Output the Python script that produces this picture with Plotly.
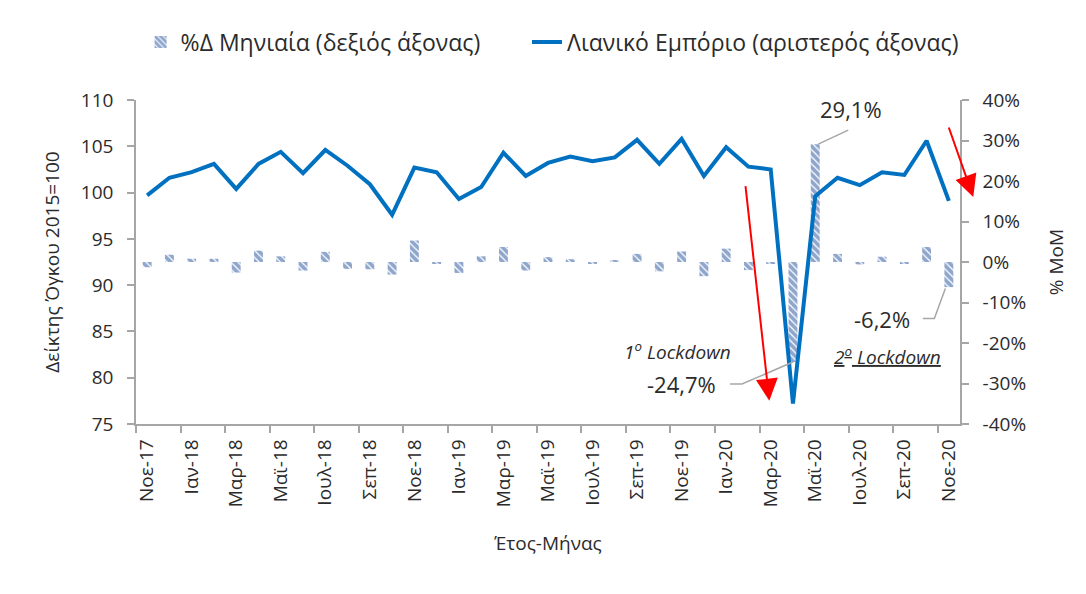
import plotly.graph_objects as go

months = ["Νοε-17", "Δεκ-17", "Ιαν-18", "Φεβ-18", "Μαρ-18", "Απρ-18", "Μαϊ-18", "Ιουν-18",
          "Ιουλ-18", "Αυγ-18", "Σεπ-18", "Οκτ-18", "Νοε-18", "Δεκ-18", "Ιαν-19", "Φεβ-19",
          "Μαρ-19", "Απρ-19", "Μαϊ-19", "Ιουν-19", "Ιουλ-19", "Αυγ-19", "Σεπ-19", "Οκτ-19",
          "Νοε-19", "Δεκ-19", "Ιαν-20", "Φεβ-20", "Μαρ-20", "Απρ-20", "Μαϊ-20", "Ιουν-20",
          "Ιουλ-20", "Αυγ-20", "Σεπ-20", "Οκτ-20", "Νοε-20"]

retail_index = [99.7, 101.6, 102.2, 103.1, 100.4, 103.1, 104.4, 102.1, 104.6, 102.9, 100.9, 97.6,
                102.7, 102.2, 99.3, 100.6, 104.3, 101.8, 103.2, 103.9, 103.4, 103.8, 105.7, 103.1,
                105.8, 101.8, 104.9, 102.8, 102.5, 77.2, 99.6, 101.6, 100.8, 102.2, 101.9, 105.6, 99.1]

mom_change = [-1.3, 1.8, 0.8, 0.8, -2.6, 2.8, 1.4, -2.1, 2.5, -1.7, -1.8, -3.1, 5.3, -0.5, -2.7,
              1.4, 3.7, -2.1, 1.2, 0.7, -0.4, 0.4, 2.0, -2.3, 2.6, -3.5, 3.3, -2.0, -0.3, -24.7,
              29.1, 2.0, -0.6, 1.3, -0.3, 3.7, -6.2]

left_ticks = [75, 80, 85, 90, 95, 100, 105, 110]
right_ticks = [-40, -30, -20, -10, 0, 10, 20, 30, 40]
right_tick_labels = ["-40%", "-30%", "-20%", "-10%", "0%", "10%", "20%", "30%", "40%"]

bar_name = "%Δ Μηνιαία (δεξιός άξονας)"
line_name = "Λιανικό Εμπόριο (αριστερός άξονας)"

FONT = "Open Sans"
TXT = "#2B2B2B"
AX = "#A6A6A6"
PAD = "\u00a0" * 7  # spacing between legend entries

fig = go.Figure()

fig.add_trace(go.Bar(
    x=months, y=mom_change, yaxis="y",
    name=bar_name + PAD,
    width=0.4,
    marker=dict(color="white", line=dict(width=0),
                pattern=dict(shape="\\", fgcolor="#1F4E9A", bgcolor="white",
                             size=5, solidity=0.75)),
))

fig.add_trace(go.Scatter(
    x=months, y=retail_index, yaxis="y2", mode="lines",
    name=line_name,
    line=dict(color="#0070C0", width=4),
))

ann = []
# value labels
ann.append(dict(x="Μαϊ-20", y=29.1, xref="x", yref="y", text="29,1%", showarrow=False,
                xshift=36, yshift=35, font=dict(size=22, color=TXT, family=FONT)))
ann.append(dict(x="Απρ-20", y=-24.7, xref="x", yref="y", text="-24,7%", showarrow=False,
                xshift=-111, yshift=-22, font=dict(size=22, color=TXT, family=FONT)))
ann.append(dict(x="Νοε-20", y=-6.2, xref="x", yref="y", text="-6,2%", showarrow=False,
                xshift=-67, yshift=-32, font=dict(size=22, color=TXT, family=FONT)))
# lockdown labels
ann.append(dict(x="Απρ-20", y=-24.7, xref="x", yref="y",
                text="<i>1<sup>ο</sup> Lockdown</i>", showarrow=False,
                xshift=-115, yshift=11, font=dict(size=19, color=TXT, family=FONT)))
ann.append(dict(x="Νοε-20", y=-6.2, xref="x", yref="y",
                text="<i><u>2<sup>ο</sup> Lockdown</u></i>", showarrow=False,
                xshift=-61, yshift=-69, font=dict(size=19, color=TXT, family=FONT)))
# red arrows
red = dict(xref="paper", yref="paper", axref="pixel", ayref="pixel", text="", showarrow=True,
           arrowhead=2, arrowsize=2.2, arrowwidth=2, arrowcolor="#FF0000", standoff=0)
ann.append(dict(red, x=0.7686, y=0.0719, ax=-24, ay=-216))
ann.append(dict(red, x=1.0161, y=0.7006, ax=-25, ay=-71))

lead = dict(type="path", xref="x", yref="y", xsizemode="pixel", ysizemode="pixel",
            line=dict(color="#A6A6A6", width=1.5))
shapes = [
    dict(lead, xanchor="Μαϊ-20", yanchor=29.1, path="M3,0 L33,14"),
    dict(lead, xanchor="Απρ-20", yanchor=-24.7, path="M0,0 L-51,-22 L-63,-22"),
    dict(lead, xanchor="Νοε-20", yanchor=-6.2, path="M-3.5,-1.5 L-14.5,-31.5 L-26,-31.5"),
]

fig.update_layout(
    width=1086, height=594,
    margin=dict(l=128, r=134, t=92, b=178, autoexpand=False),
    paper_bgcolor="white", plot_bgcolor="white",
    font=dict(family=FONT, size=19, color=TXT),
    showlegend=True,
    legend=dict(orientation="h", x=0.505, xanchor="center", y=1.179, yanchor="middle",
                font=dict(size=23, color=TXT, family=FONT), traceorder="normal",
                itemwidth=30),
    xaxis=dict(type="category", tickmode="linear", tick0=0, dtick=2, tickson="boundaries",
               tickangle=-90, ticks="outside", ticklen=7, tickcolor=AX, tickwidth=1.5,
               showline=True, linecolor=AX, linewidth=1.5, showgrid=False,
               range=[-0.5, len(months) - 0.5], ticklabelstandoff=6,
               tickfont=dict(size=19, color=TXT, family=FONT),
               title=dict(text="Έτος-Μήνας", font=dict(size=19, color=TXT, family=FONT), standoff=30)),
    yaxis=dict(side="right", range=[-40, 40], tickmode="array", tickvals=right_ticks,
               ticktext=right_tick_labels,
               ticks="outside", ticklen=7, tickcolor=AX, tickwidth=1.5,
               showline=True, linecolor=AX, linewidth=1.5, showgrid=False, zeroline=False,
               ticklabelstandoff=10,
               tickfont=dict(size=19, color=TXT, family=FONT),
               title=dict(text="% MoM", font=dict(size=19, color=TXT, family=FONT), standoff=25)),
    yaxis2=dict(side="left", overlaying="y", range=[75, 110], tickvals=left_ticks,
                ticks="outside", ticklen=7, tickcolor=AX, tickwidth=1.5,
                showline=True, linecolor=AX, linewidth=1.5, showgrid=False, zeroline=False,
                ticklabelstandoff=10,
                tickfont=dict(size=19, color=TXT, family=FONT),
                title=dict(text="Δείκτης Όγκου 2015=100", font=dict(size=19, color=TXT, family=FONT),
                           standoff=16)),
    annotations=ann,
    shapes=shapes,
)

fig.write_html("out.html")
